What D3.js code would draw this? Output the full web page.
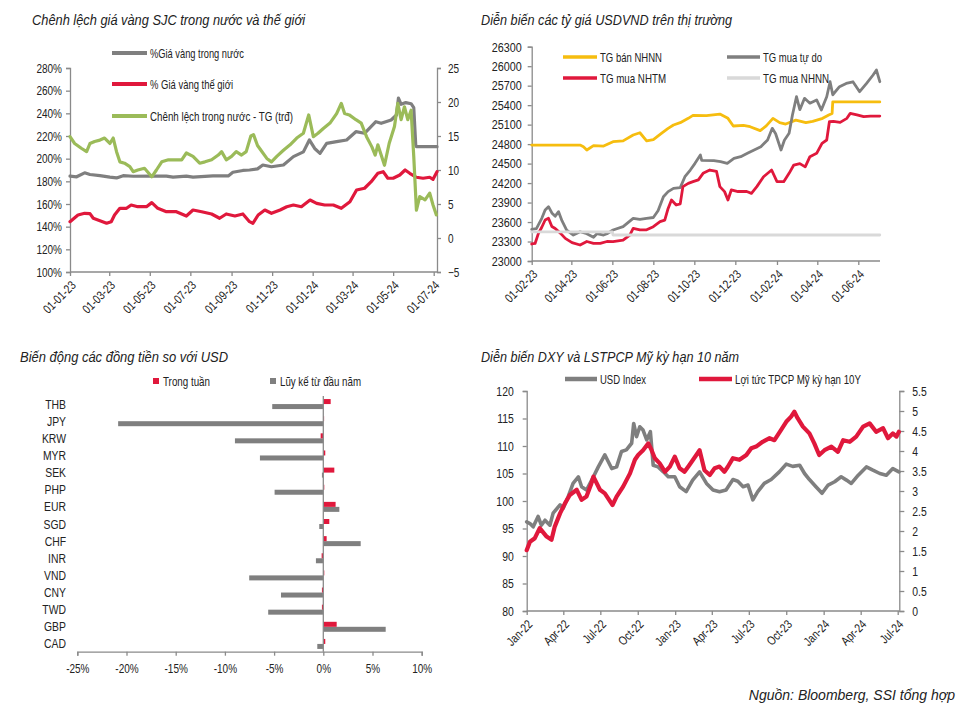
<!DOCTYPE html>
<html><head><meta charset="utf-8">
<script src="https://cdn.jsdelivr.net/npm/d3@7"></script>
<style>
body{margin:0;background:#fff;}
svg{font-family:"Liberation Sans Narrow","Arial Narrow","Liberation Sans",Arial,sans-serif;}
</style></head><body>
<svg id="c" width="970" height="727"></svg>
<script>
// ---------- Panel 1: gold prices ----------
const p1Domestic = [["2023-01-01",184.6],["2023-01-11",184],["2023-01-23",187.5],["2023-01-31",186],["2023-02-15",185],["2023-03-02",183.7],["2023-03-12",183],["2023-03-22",185],["2023-04-06",184.5],["2023-05-01",184.6],["2023-05-26",184.6],["2023-06-05",183.7],["2023-06-25",184.6],["2023-07-05",183.7],["2023-08-04",184.8],["2023-08-27",184.8],["2023-09-03",188],["2023-09-18",189.6],["2023-09-28",190],["2023-10-10",191],["2023-10-18",194.4],["2023-10-31",192.9],["2023-11-18",194.4],["2023-12-03",201.8],["2023-12-18",206],["2023-12-27",216.5],["2024-01-04",209],["2024-01-12",204.7],["2024-01-22",213.5],["2024-02-06",215],["2024-02-21",216.5],["2024-03-06",223.8],["2024-03-19",222.4],["2024-04-05",232.6],["2024-04-13",231.2],["2024-04-20",232.6],["2024-04-28",234.1],["2024-05-06",238.5],["2024-05-09",253.5],["2024-05-13",248],["2024-05-20",249.5],["2024-05-28",248.5],["2024-06-01",245],["2024-06-04",212],["2024-06-05",210.6],["2024-07-06",210.6]];
const p1World = [["2023-01-01",144.4],["2023-01-13",150.3],["2023-01-23",151.8],["2023-01-31",151.5],["2023-02-05",147.4],["2023-02-12",145.9],["2023-02-25",143],["2023-03-04",144.4],["2023-03-09",150.3],["2023-03-17",156.2],["2023-03-27",156.2],["2023-04-03",159.1],["2023-04-13",157.6],["2023-04-26",157.6],["2023-05-04",161.2],["2023-05-13",156.2],["2023-05-26",153.2],["2023-06-10",153.2],["2023-06-25",149.4],["2023-07-05",154.7],["2023-07-18",153.2],["2023-08-02",151.2],["2023-08-14",147.4],["2023-08-24",151.2],["2023-09-06",149.4],["2023-09-18",151.2],["2023-09-28",144.4],["2023-10-03",143],["2023-10-11",150.3],["2023-10-21",154.7],["2023-10-31",151.8],["2023-11-13",154.7],["2023-11-23",157.6],["2023-12-03",159.1],["2023-12-15",157.6],["2023-12-28",163.5],["2024-01-07",160.6],["2024-01-19",159.1],["2024-02-01",159.1],["2024-02-13",156.2],["2024-02-26",162],["2024-03-07",172.4],["2024-03-19",173.9],["2024-03-29",179.7],["2024-04-08",187.1],["2024-04-16",188.5],["2024-04-23",182.7],["2024-05-01",182.7],["2024-05-11",185.6],["2024-05-19",190],["2024-05-26",187.1],["2024-06-05",183.6],["2024-06-15",182.7],["2024-06-25",183.6],["2024-06-30",181.8],["2024-07-06",188.5]];
const p1Gap = [["2023-01-01",14.9],["2023-01-08",13.9],["2023-01-18",13.2],["2023-01-26",12.7],["2023-01-31",13.9],["2023-02-07",14.2],["2023-02-15",14.4],["2023-02-22",14.7],["2023-03-02",13.9],["2023-03-07",14.7],["2023-03-12",12.7],["2023-03-17",11.2],["2023-03-24",11.0],["2023-04-01",10.5],["2023-04-06",9.75],["2023-04-13",10.0],["2023-04-23",10.25],["2023-05-04",9.0],["2023-05-11",10],["2023-05-19",11.2],["2023-05-29",11.5],["2023-06-08",11.5],["2023-06-18",11.5],["2023-06-25",12.5],["2023-07-05",12],["2023-07-15",11],["2023-07-23",11.2],["2023-08-02",11.5],["2023-08-12",12.2],["2023-08-17",12.7],["2023-08-24",11.5],["2023-09-01",12],["2023-09-08",12.7],["2023-09-16",12.2],["2023-09-23",12.7],["2023-09-30",15.0],["2023-10-04",15.2],["2023-10-10",13.6],["2023-10-13",13.2],["2023-10-24",11.7],["2023-10-31",11.2],["2023-11-08",12],["2023-11-18",12.9],["2023-11-28",13.7],["2023-12-08",14.7],["2023-12-18",15.4],["2023-12-26",18.1],["2024-01-02",14.9],["2024-01-09",15.4],["2024-01-17",16.1],["2024-01-27",16.9],["2024-02-06",18.3],["2024-02-13",19.8],["2024-02-18",18.3],["2024-02-25",18.1],["2024-03-06",17.4],["2024-03-14",16.9],["2024-03-22",14.9],["2024-03-30",13.4],["2024-04-04",12.2],["2024-04-08",13.7],["2024-04-13",12.2],["2024-04-18",10.7],["2024-04-25",13.9],["2024-05-03",16.4],["2024-05-08",19.8],["2024-05-13",17.4],["2024-05-18",19.3],["2024-05-23",17.4],["2024-05-28",18.8],["2024-06-01",12],["2024-06-05",4.1],["2024-06-10",6.1],["2024-06-18",5.6],["2024-06-25",6.6],["2024-06-30",4.85],["2024-07-05",3.4]];
const p1LeftTicks = [100,120,140,160,180,200,220,240,260,280];
const p1RightTicks = [-5,0,5,10,15,20,25];
const p1XTicks = ["2023-01-01","2023-03-01","2023-05-01","2023-07-01","2023-09-01","2023-11-01","2024-01-01","2024-03-01","2024-05-01","2024-07-01"];

// ---------- Panel 2: USDVND ----------
const p2SbvSell = [["2023-02-01",24785],["2023-04-14",24785],["2023-04-19",24760],["2023-04-24",24710],["2023-05-04",24776],["2023-05-19",24770],["2023-06-02",24837],["2023-06-17",24850],["2023-07-02",24940],["2023-07-12",24975],["2023-07-22",24850],["2023-08-01",24870],["2023-08-13",24966],["2023-08-23",25043],["2023-08-31",25094],["2023-09-10",25130],["2023-09-22",25197],["2023-09-29",25243],["2023-10-19",25240],["2023-11-08",25263],["2023-11-20",25197],["2023-11-28",25079],["2023-12-13",25090],["2023-12-23",25068],["2024-01-07",25007],["2024-01-16",25080],["2024-01-26",25197],["2024-02-05",25130],["2024-02-14",25109],["2024-02-29",25170],["2024-03-15",25130],["2024-03-25",25150],["2024-04-09",25197],["2024-04-18",25248],["2024-04-23",25273],["2024-04-24",25450],["2024-07-03",25450]];
const p2Free = [["2023-02-01",23488],["2023-02-08",23500],["2023-02-16",23657],["2023-02-21",23785],["2023-02-26",23837],["2023-03-03",23740],["2023-03-08",23690],["2023-03-13",23760],["2023-03-18",23620],["2023-03-25",23477],["2023-04-04",23400],["2023-04-14",23450],["2023-04-24",23420],["2023-05-04",23365],["2023-05-09",23420],["2023-05-19",23400],["2023-05-24",23420],["2023-06-02",23477],["2023-06-17",23529],["2023-07-02",23657],["2023-07-12",23640],["2023-07-22",23657],["2023-08-01",23670],["2023-08-08",23775],["2023-08-16",23990],["2023-08-23",24068],["2023-08-31",24119],["2023-09-10",24130],["2023-09-17",24298],["2023-09-25",24401],["2023-10-02",24504],["2023-10-10",24632],["2023-10-12",24550],["2023-10-30",24545],["2023-11-09",24530],["2023-11-19",24504],["2023-11-29",24580],["2023-12-09",24606],["2023-12-19",24658],["2023-12-29",24709],["2024-01-08",24760],["2024-01-18",24863],["2024-01-25",25043],["2024-01-30",24960],["2024-02-07",24709],["2024-02-12",24860],["2024-02-19",24966],["2024-02-24",25248],["2024-03-01",25530],["2024-03-06",25330],["2024-03-13",25505],["2024-03-21",25430],["2024-03-31",25480],["2024-04-07",25325],["2024-04-15",25530],["2024-04-20",25761],["2024-04-24",25560],["2024-05-04",25684],["2024-05-14",25735],["2024-05-24",25760],["2024-06-03",25607],["2024-06-13",25730],["2024-06-23",25864],["2024-06-28",25941],["2024-07-03",25761]];
const p2Bank = [["2023-02-01",23262],["2023-02-06",23270],["2023-02-11",23426],["2023-02-16",23520],["2023-02-21",23631],["2023-02-26",23657],["2023-03-03",23530],["2023-03-08",23500],["2023-03-16",23426],["2023-03-23",23349],["2023-04-02",23283],["2023-04-14",23246],["2023-04-24",23300],["2023-05-04",23270],["2023-05-14",23270],["2023-05-24",23300],["2023-06-02",23298],["2023-06-17",23320],["2023-06-27",23400],["2023-07-02",23503],["2023-07-12",23480],["2023-07-22",23480],["2023-08-01",23529],["2023-08-11",23606],["2023-08-18",23630],["2023-08-23",23810],["2023-08-28",23939],["2023-09-04",23862],["2023-09-10",23880],["2023-09-14",24145],["2023-09-22",24196],["2023-09-29",24222],["2023-10-07",24250],["2023-10-14",24350],["2023-10-24",24401],["2023-11-03",24380],["2023-11-08",24145],["2023-11-15",24068],["2023-11-20",23939],["2023-11-25",24094],["2023-12-05",24070],["2023-12-18",24070],["2023-12-25",24042],["2024-01-02",24145],["2024-01-12",24298],["2024-01-24",24401],["2024-02-01",24222],["2024-02-11",24222],["2024-02-19",24350],["2024-02-26",24478],["2024-03-06",24500],["2024-03-14",24450],["2024-03-21",24607],["2024-03-31",24658],["2024-04-08",24812],["2024-04-15",24863],["2024-04-19",25145],["2024-04-25",25150],["2024-05-05",25135],["2024-05-15",25197],["2024-05-20",25273],["2024-05-30",25250],["2024-06-09",25222],["2024-06-19",25230],["2024-07-03",25232]];
const p2SbvBuy = [["2023-02-01",23450],["2023-06-01",23450],["2023-06-02",23400],["2024-07-03",23400]];
const p2YTicks = [23000,23300,23600,23900,24200,24500,24800,25100,25400,25700,26000,26300];
const p2XTicks = ["2023-02-01","2023-04-01","2023-06-01","2023-08-01","2023-10-01","2023-12-01","2024-02-01","2024-04-01","2024-06-01"];

// ---------- Panel 3: currencies vs USD ----------
const p3Currencies = ["THB","JPY","KRW","MYR","SEK","PHP","EUR","SGD","CHF","INR","VND","CNY","TWD","GBP","CAD"];
const p3Week = [0.75,0.07,-0.27,0.2,1.12,0.1,1.25,0.61,0.34,-0.17,0.1,-0.14,-0.14,1.36,0.2];
const p3Ytd = [-5.19,-20.85,-8.98,-6.44,-0.14,-4.95,1.63,-0.41,3.8,-0.75,-7.53,-4.3,-5.6,6.34,-0.61];
const p3XTicks = [-25,-20,-15,-10,-5,0,5,10];

// ---------- Panel 4: DXY & US 10Y ----------
const p4Dxy = [["2022-01-01",96.2],["2022-01-09",95.9],["2022-01-17",95.3],["2022-01-29",97.2],["2022-02-06",95.6],["2022-02-15",96.5],["2022-02-27",95.6],["2022-03-07",97.8],["2022-03-24",99.3],["2022-04-01",98.7],["2022-04-13",100.8],["2022-04-25",103.2],["2022-05-08",104.4],["2022-05-16",102.6],["2022-05-28",102],["2022-06-14",104.4],["2022-06-26",106.2],["2022-07-12",108.4],["2022-07-29",105.9],["2022-08-10",106.2],["2022-08-22",109],["2022-09-03",109.3],["2022-09-16",110.5],["2022-09-21",114.1],["2022-09-28",111.7],["2022-10-06",113.5],["2022-10-14",112.9],["2022-10-23",111.1],["2022-11-01",112.6],["2022-11-08",106.5],["2022-11-20",106.2],["2022-12-03",105.3],["2022-12-15",104.4],["2022-12-31",104.4],["2023-01-12",102.6],["2023-01-28",101.7],["2023-02-13",103.8],["2023-03-02",105.3],["2023-03-19",103.2],["2023-04-04",102],["2023-04-20",101.7],["2023-05-06",102],["2023-05-23",103.9],["2023-06-04",103.6],["2023-06-17",102.6],["2023-06-29",102.9],["2023-07-11",100.2],["2023-07-23",101.7],["2023-08-08",103.2],["2023-08-25",103.9],["2023-09-14",105.3],["2023-10-01",106.7],["2023-10-17",106.3],["2023-11-03",106.5],["2023-11-15",105],["2023-11-27",103.9],["2023-12-13",102.6],["2023-12-28",101.4],["2024-01-12",102.9],["2024-01-28",103.5],["2024-02-13",104.4],["2024-02-26",103.8],["2024-03-09",103.2],["2024-03-26",104.7],["2024-04-15",106.2],["2024-05-01",105.6],["2024-05-18",105],["2024-06-03",104.7],["2024-06-19",105.9],["2024-07-04",105.3]];
const p4Yield = [["2022-01-01",1.52],["2022-01-09",1.73],["2022-01-21",1.82],["2022-02-02",2.07],["2022-02-19",1.86],["2022-03-03",1.78],["2022-03-11",2.11],["2022-03-24",2.44],["2022-04-05",2.69],["2022-04-17",2.9],["2022-05-04",3.03],["2022-05-16",2.78],["2022-05-28",2.86],["2022-06-09",3.19],["2022-06-14",3.36],["2022-06-30",3.03],["2022-07-12",2.94],["2022-07-31",2.65],["2022-08-10",2.86],["2022-08-26",3.11],["2022-09-12",3.44],["2022-09-24",3.78],["2022-10-02",3.9],["2022-10-14",4.02],["2022-10-27",4.19],["2022-11-04",4.02],["2022-11-12",3.82],["2022-11-24",3.69],["2022-12-07",3.48],["2022-12-19",3.61],["2022-12-31",3.86],["2023-01-12",3.57],["2023-01-24",3.48],["2023-02-05",3.65],["2023-02-22",3.9],["2023-03-02",4.02],["2023-03-14",3.52],["2023-03-27",3.4],["2023-04-08",3.57],["2023-04-20",3.61],["2023-05-02",3.48],["2023-05-10",3.6],["2023-05-23",3.82],["2023-06-08",3.78],["2023-06-25",3.9],["2023-07-07",4.07],["2023-07-19",4.11],["2023-08-04",4.23],["2023-08-21",4.32],["2023-09-02",4.27],["2023-09-18",4.52],["2023-10-01",4.73],["2023-10-13",4.86],["2023-10-21",4.98],["2023-10-29",4.82],["2023-11-11",4.61],["2023-11-27",4.44],["2023-12-09",4.19],["2023-12-21",3.9],["2024-01-03",4.02],["2024-01-20",4.11],["2024-02-05",3.98],["2024-02-18",4.27],["2024-03-05",4.23],["2024-03-21",4.36],["2024-04-07",4.61],["2024-04-23",4.69],["2024-05-09",4.48],["2024-05-26",4.57],["2024-06-07",4.32],["2024-06-19",4.44],["2024-06-28",4.36],["2024-07-04",4.48]];
const p4LeftTicks = [80,85,90,95,100,105,110,115,120];
const p4RightTicks = [0,0.5,1,1.5,2,2.5,3,3.5,4,4.5,5,5.5];
const p4XTicks = ["2022-01-01","2022-04-01","2022-07-01","2022-10-01","2023-01-01","2023-04-01","2023-07-01","2023-10-01","2024-01-01","2024-04-01","2024-07-01"];

// ---------- drawing ----------
const parse = d3.timeParse("%Y-%m-%d");
const svg = d3.select("#c");
const AX = "#8a8a8a", TXT = "#222";
const GRAY = "#7f7f7f", RED = "#e0183c", GREEN = "#9bbb59", YELLOW = "#f6bd0f", LGRAY = "#d9d9d9";
const K = 0.8; // horizontal squeeze to imitate a narrow font

function squeeze(sel, k) {
  sel.each(function () {
    const t = d3.select(this);
    const x = +t.attr("x") || 0;
    const tr = t.attr("transform") || "";
    t.attr("x", x / k).attr("transform", (tr + " scale(" + k + ",1)").trim());
  });
}
function styleAxis(g, fs) {
  g.select(".domain").attr("stroke", AX).attr("stroke-width", 1.3);
  g.selectAll(".tick line").attr("stroke", AX).attr("stroke-width", 1.3);
  g.selectAll(".tick text").attr("fill", TXT).style("font-size", (fs || 12.5) + "px").style("font-family", null);
}
function rotateLabels(g) {
  g.selectAll(".tick text").attr("text-anchor", "end").attr("x", 0).attr("y", 0)
    .attr("dy", "0.35em").attr("transform", "translate(3,11) rotate(-45)");
}
function drawLine(g, data, x, y, color, w) {
  g.append("path").datum(data).attr("fill", "none").attr("stroke", color).attr("stroke-width", w)
    .attr("stroke-linejoin", "round").attr("stroke-linecap", "round")
    .attr("d", d3.line().x(d => x(parse(d[0]))).y(d => y(d[1])));
}
function fitText(x, y, txt, len, fs, italic) {
  const t = svg.append("text").attr("x", x).attr("y", y).attr("fill", TXT)
    .style("font-size", fs + "px").attr("textLength", len).attr("lengthAdjust", "spacingAndGlyphs").text(txt);
  if (italic) t.style("font-style", "italic");
  return t;
}
function legendLine(x1, x2, y, color, w, label, len) {
  svg.append("line").attr("x1", x1).attr("x2", x2).attr("y1", y).attr("y2", y)
    .attr("stroke", color).attr("stroke-width", w);
  fitText(x2 + 3, y + 5, label, len, 13.5, false);
}

// Panel 1
{
  const x = d3.scaleTime().domain([parse("2023-01-01"), parse("2024-07-01")]).range([70, 433.7]);
  const yL = d3.scaleLinear().domain([100, 280]).range([272, 68]);
  const yR = d3.scaleLinear().domain([-5, 25]).range([272, 68]);
  fitText(32, 25, "Chênh lệch giá vàng SJC trong nước và thế giới", 273, 15.5, true);
  const gl = svg.append("g").attr("transform", "translate(70,0)")
    .call(d3.axisLeft(yL).tickValues(p1LeftTicks).tickFormat(d => d + "%").tickSize(4).tickPadding(4));
  styleAxis(gl); squeeze(gl.selectAll(".tick text"), K);
  const gr = svg.append("g").attr("transform", "translate(437,0)")
    .call(d3.axisRight(yR).tickValues(p1RightTicks).tickSize(4).tickPadding(7));
  styleAxis(gr); squeeze(gr.selectAll(".tick text"), K);
  const gx = svg.append("g").attr("transform", "translate(0,272)")
    .call(d3.axisBottom(x).tickValues(p1XTicks.map(parse)).tickFormat(d3.timeFormat("%d-%m-%y")).tickSize(4));
  gx.select(".domain").remove();
  styleAxis(gx); rotateLabels(gx); squeeze(gx.selectAll(".tick text"), K);
  svg.append("line").attr("x1", 70).attr("x2", 437).attr("y1", 272).attr("y2", 272).attr("stroke", AX).attr("stroke-width", 1.3);
  const g = svg.append("g");
  drawLine(g, p1Domestic, x, yL, GRAY, 3.2);
  drawLine(g, p1World, x, yL, RED, 3.2);
  drawLine(g, p1Gap, x, yR, GREEN, 3.2);
  legendLine(112, 147, 53, GRAY, 4, "%Giá vàng trong nước", 94);
  legendLine(112, 147, 84, RED, 4, "% Giá vàng thế giới", 83);
  legendLine(112, 147, 116, GREEN, 4, "Chênh lệch trong nước - TG (trđ)", 143);
}

// Panel 2
{
  const x = d3.scaleTime().domain([parse("2023-02-01"), parse("2024-06-01")]).range([531.7, 858.3]);
  const y = d3.scaleLinear().domain([23000, 26300]).range([261, 46.7]);
  fitText(481, 25, "Diễn biến các tỷ giá USDVND trên thị trường", 251, 15.5, true);
  const gy = svg.append("g").attr("transform", "translate(531.7,0)")
    .call(d3.axisLeft(y).tickValues(p2YTicks).tickSize(4).tickPadding(6).tickFormat(d3.format("d")));
  styleAxis(gy, 13.5); squeeze(gy.selectAll(".tick text"), K);
  const gx = svg.append("g").attr("transform", "translate(0,261)")
    .call(d3.axisBottom(x).tickValues(p2XTicks.map(parse)).tickFormat(d3.timeFormat("%d-%m-%y")).tickSize(4));
  gx.select(".domain").remove();
  styleAxis(gx); rotateLabels(gx); squeeze(gx.selectAll(".tick text"), K);
  svg.append("line").attr("x1", 531.7).attr("x2", 880).attr("y1", 261).attr("y2", 261).attr("stroke", AX).attr("stroke-width", 1.3);
  const g = svg.append("g");
  drawLine(g, p2SbvSell, x, y, YELLOW, 2.8);
  drawLine(g, p2Free, x, y, GRAY, 2.8);
  drawLine(g, p2Bank, x, y, RED, 2.8);
  drawLine(g, p2SbvBuy, x, y, LGRAY, 2.8);
  legendLine(563, 597, 57, YELLOW, 3.5, "TG bán NHNN", 62);
  legendLine(563, 597, 78, RED, 3.5, "TG mua NHTM", 66);
  legendLine(727, 760, 57, GRAY, 3.5, "TG mua tự do", 59);
  legendLine(727, 760, 78, LGRAY, 3.5, "TG mua NHNN", 66);
}

// Panel 3
{
  const x = d3.scaleLinear().domain([-25, 10]).range([77.3, 421.7]);
  const y = d3.scaleBand().domain(p3Currencies).range([395.5, 652.5]).padding(0);
  const inner = d3.scaleBand().domain(["week", "ytd"]).range([-5, 5]);
  fitText(20, 362, "Biến động các đồng tiền so với USD", 208, 15.5, true);
  const gx = svg.append("g").attr("transform", "translate(0,651.7)")
    .call(d3.axisBottom(x).tickValues(p3XTicks).tickFormat(d => d + "%").tickSize(4).tickPadding(8));
  styleAxis(gx); squeeze(gx.selectAll(".tick text"), K);
  const rows = p3Currencies.map((c, i) => ({c, week: p3Week[i], ytd: p3Ytd[i]}));
  const g = svg.append("g");
  g.selectAll("rect.ytd").data(rows).join("rect").attr("class", "ytd")
    .attr("x", d => x(Math.min(0, d.ytd))).attr("width", d => Math.abs(x(d.ytd) - x(0)))
    .attr("y", d => y(d.c) + y.bandwidth() / 2 + inner("ytd")).attr("height", inner.bandwidth())
    .attr("fill", GRAY);
  g.selectAll("rect.week").data(rows).join("rect").attr("class", "week")
    .attr("x", d => x(Math.min(0, d.week))).attr("width", d => Math.max(0.8, Math.abs(x(d.week) - x(0))))
    .attr("y", d => y(d.c) + y.bandwidth() / 2 + inner("week")).attr("height", inner.bandwidth())
    .attr("fill", RED);
  svg.append("line").attr("x1", x(0)).attr("x2", x(0)).attr("y1", 396).attr("y2", 651.7).attr("stroke", AX).attr("stroke-width", 1.3);
  const cats = g.selectAll("text.cat").data(p3Currencies).join("text").attr("class", "cat")
    .attr("x", 66).attr("y", d => y(d) + y.bandwidth() / 2).attr("dy", "0.35em")
    .attr("text-anchor", "end").attr("fill", TXT).style("font-size", "13px").text(d => d);
  squeeze(cats, K);
  svg.append("rect").attr("x", 153).attr("y", 378).attr("width", 6).attr("height", 6).attr("fill", RED);
  fitText(163, 386, "Trong tuần", 47, 13.5, false);
  svg.append("rect").attr("x", 270).attr("y", 378).attr("width", 6).attr("height", 6).attr("fill", GRAY);
  fitText(280, 386, "Lũy kế từ đầu năm", 81, 13.5, false);
}

// Panel 4
{
  const x = d3.scaleTime().domain([parse("2022-01-01"), parse("2024-07-01")]).range([526.7, 897.7]);
  const yL = d3.scaleLinear().domain([80, 120]).range([611, 391]);
  const yR = d3.scaleLinear().domain([0, 5.5]).range([611, 391]);
  fitText(481, 362, "Diễn biến DXY và LSTPCP Mỹ kỳ hạn 10 năm", 258, 15.5, true);
  const gl = svg.append("g").attr("transform", "translate(526.7,0)")
    .call(d3.axisLeft(yL).tickValues(p4LeftTicks).tickSize(4).tickPadding(9));
  styleAxis(gl, 13); squeeze(gl.selectAll(".tick text"), K);
  const gr = svg.append("g").attr("transform", "translate(899.3,0)")
    .call(d3.axisRight(yR).tickValues(p4RightTicks).tickFormat(d3.format("~g")).tickSize(5).tickPadding(8));
  styleAxis(gr, 13); squeeze(gr.selectAll(".tick text"), K);
  const gx = svg.append("g").attr("transform", "translate(0,611)")
    .call(d3.axisBottom(x).tickValues(p4XTicks.map(parse)).tickFormat(d3.timeFormat("%b-%y")).tickSize(4));
  gx.select(".domain").remove();
  styleAxis(gx); rotateLabels(gx); squeeze(gx.selectAll(".tick text"), K);
  svg.append("line").attr("x1", 526.7).attr("x2", 899.3).attr("y1", 611).attr("y2", 611).attr("stroke", AX).attr("stroke-width", 1.3);
  const g = svg.append("g");
  drawLine(g, p4Dxy, x, yL, GRAY, 3.6);
  drawLine(g, p4Yield, x, yR, RED, 4.2);
  legendLine(565, 597, 379, GRAY, 4.5, "USD Index", 46);
  legendLine(699, 732, 379, RED, 4.5, "Lợi tức TPCP Mỹ kỳ hạn 10Y", 126);
}

svg.append("text").attr("x", 955).attr("y", 700).attr("text-anchor", "end").attr("fill", TXT)
  .style("font-size", "14px").style("font-style", "italic").text("Nguồn: Bloomberg, SSI tổng hợp");
</script>
</body></html>
